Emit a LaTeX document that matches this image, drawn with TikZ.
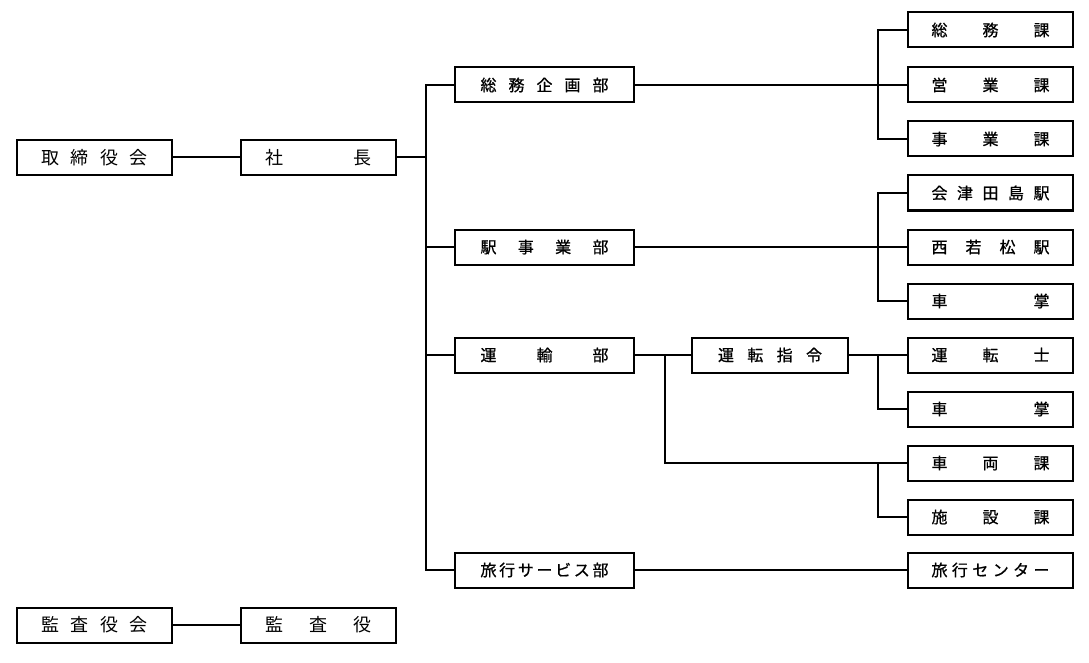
\documentclass[tikz,border=0pt]{standalone}
\usepackage{fontspec}
\newfontfamily\jpfont{Noto Sans CJK JP}
\newfontfamily\jpmid[FakeBold=0.8]{Noto Sans CJK JP}
\tikzset{
  box/.style={draw, line width=2pt, minimum height=35pt, inner sep=0pt, font=\jpmid\fontsize{16}{16}\selectfont},
  bigbox/.style={box, minimum width=155pt, font=\jpfont\fontsize{18}{18}\selectfont},
  midbox/.style={box, minimum width=179pt},
  rbox/.style={box, minimum width=165pt},
  link/.style={line width=2pt}
}
\newcommand{\spr}[2]{\makebox[#1pt]{#2}}
\begin{document}
\begin{tikzpicture}[x=1pt,y=-1pt]
\useasboundingbox (0,0) rectangle (1089,663);
% left
\node[bigbox] (tori) at (94.5,157.5) {\spr{106}{取\hfill 締\hfill 役\hfill 会}};
\node[bigbox] (sha) at (318.5,157.5) {\spr{106}{社\hfill 長}};
\node[bigbox] (kansakai) at (94.5,625) {\spr{106}{監\hfill 査\hfill 役\hfill 会}};
\node[bigbox] (kansayaku) at (318.5,625) {\spr{106}{監\hfill 査\hfill 役}};
% level 2
\node[midbox] (soumu) at (544.5,85) {\spr{128}{総\hfill 務\hfill 企\hfill 画\hfill 部}};
\node[midbox] (eki) at (544.5,247) {\spr{128}{駅\hfill 事\hfill 業\hfill 部}};
\node[midbox] (unyu) at (544.5,355) {\spr{128}{運\hfill 輸\hfill 部}};
\node[midbox] (ryoko) at (544.5,570) {\spr{128}{旅\hfill 行\hfill サ\hfill ー\hfill ビ\hfill ス\hfill 部}};
\node[box, minimum width=156pt] (shirei) at (770,355) {\spr{104}{運\hfill 転\hfill 指\hfill 令}};
% right column
\node[rbox] (soumuka) at (990.5,30) {\spr{118}{総\hfill 務\hfill 課}};
\node[rbox] (eigyo) at (990.5,85) {\spr{118}{営\hfill 業\hfill 課}};
\node[rbox] (jigyo) at (990.5,139) {\spr{118}{事\hfill 業\hfill 課}};
\node[rbox] (aizu) at (990.5,193) {\spr{118}{会\hfill 津\hfill 田\hfill 島\hfill 駅}};
\node[rbox] (nishi) at (990.5,247) {\spr{118}{西\hfill 若\hfill 松\hfill 駅}};
\node[rbox] (shasho1) at (990.5,301) {\spr{118}{車\hfill 掌}};
\node[rbox] (untenshi) at (990.5,355) {\spr{118}{運\hfill 転\hfill 士}};
\node[rbox] (shasho2) at (990.5,409) {\spr{118}{車\hfill 掌}};
\node[rbox] (sharyo) at (990.5,463) {\spr{118}{車\hfill 両\hfill 課}};
\node[rbox] (shisetsu) at (990.5,517) {\spr{118}{施\hfill 設\hfill 課}};
\node[rbox] (center) at (990.5,570) {\spr{118}{旅\hfill 行\hfill セ\hfill ン\hfill タ\hfill ー}};
% junction coordinates
\coordinate (t) at (426,157.5);
\coordinate (r1) at (878,85);
\coordinate (r2) at (878,247);
\coordinate (r3) at (878,355);
\coordinate (u) at (665,355);
\coordinate (r4) at (878,463);
% connectors
\draw[link] (tori.east) -- (sha.west);
\draw[link] (kansakai.east) -- (kansayaku.west);
\draw[link] (sha.east) -- (t);
\draw[link] (t) |- (soumu.west);
\draw[link] (t) |- (eki.west);
\draw[link] (t) |- (unyu.west);
\draw[link] (t) |- (ryoko.west);
\draw[link] (soumu.east) -- (eigyo.west);
\draw[link] (r1) |- (soumuka.west);
\draw[link] (r1) |- (jigyo.west);
\draw[link] (eki.east) -- (nishi.west);
\draw[link] (r2) |- (aizu.west);
\draw[link] (r2) |- (shasho1.west);
\draw[link] (unyu.east) -- (shirei.west);
\draw[link] (shirei.east) -- (untenshi.west);
\draw[link] (r3) |- (shasho2.west);
\draw[link] (u) |- (sharyo.west);
\draw[link] (r4) |- (shisetsu.west);
\draw[link] (ryoko.east) -- (center.west);
\end{tikzpicture}
\end{document}
